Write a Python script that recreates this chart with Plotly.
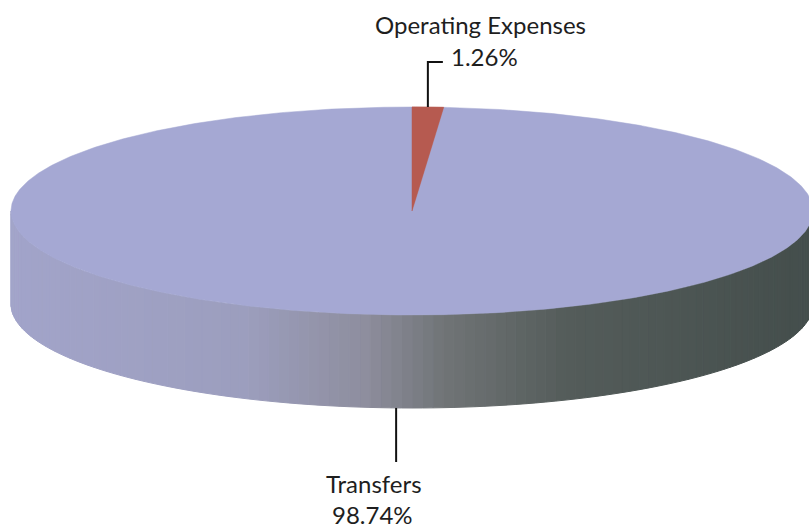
import math
import plotly.graph_objects as go

# ---- data ----
labels = ["Operating Expenses", "Transfers"]
values = [1.26, 98.74]
pct_text = ["1.26%", "98.74%"]

# ---- styling / geometry (pixel space) ----
W, H = 809, 529
CX, CY = 412, 211
RX, RY = 401, 104
DEPTH = 93
top_colors = ["#B65A50", "#A5A8D3"]

def pt(theta_deg, dy=0.0):
    t = math.radians(theta_deg)
    return CX + RX * math.sin(t), CY - RY * math.cos(t) + dy

def lerp(c1, c2, f):
    return tuple(int(round(a + (b - a) * f)) for a, b in zip(c1, c2))

# gradient stops along x for the wall
stops = [(0.0, (162, 164, 202)), (0.30, (156, 158, 190)), (0.45, (142, 142, 158)),
         (0.55, (112, 116, 118)), (0.70, (84, 92, 90)), (1.0, (68, 78, 76))]

def wall_color(x):
    f = min(max(x / W, 0), 1)
    for i in range(len(stops) - 1):
        f0, c0 = stops[i]
        f1, c1 = stops[i + 1]
        if f0 <= f <= f1:
            return "rgb(%d,%d,%d)" % lerp(c0, c1, (f - f0) / (f1 - f0))
    return "rgb(%d,%d,%d)" % stops[-1][1]

fig = go.Figure()

# wall (front half), drawn in strips for a gradient
N = 120
for i in range(N):
    a0 = 90 + 180 * i / N
    a1 = 90 + 180 * (i + 1) / N
    angs = [a0 + (a1 - a0) * k / 4 for k in range(5)]
    top = [pt(a) for a in angs]
    bot = [pt(a, DEPTH) for a in reversed(angs)]
    poly = top + bot + [top[0]]
    xm = (top[0][0] + top[-1][0]) / 2
    col = wall_color(xm)
    fig.add_trace(go.Scatter(x=[p[0] for p in poly], y=[p[1] for p in poly],
                             mode="lines", fill="toself", fillcolor=col,
                             line=dict(color=col, width=1), hoverinfo="skip",
                             showlegend=False))

# top face slices
total = sum(values)
start = 0.0
mids = []
for lab, v, col in zip(labels, values, top_colors):
    span = 360 * v / total
    n = max(int(span * 2), 4)
    angs = [start + span * k / n for k in range(n + 1)]
    pts = [(CX, CY)] + [pt(a) for a in angs] + [(CX, CY)]
    fig.add_trace(go.Scatter(x=[p[0] for p in pts], y=[p[1] for p in pts],
                             mode="lines", fill="toself", fillcolor=col,
                             line=dict(color=col, width=0.5), name=lab,
                             hoverinfo="name", showlegend=False))
    mids.append(start + span / 2)
    start += span

# draw the small slice on top again so it isn't overdrawn
span0 = 360 * values[0] / total
angs = [span0 * k / 10 for k in range(11)]
pts = [(CX, CY)] + [pt(a) for a in angs] + [(CX, CY)]
fig.add_trace(go.Scatter(x=[p[0] for p in pts], y=[p[1] for p in pts],
                         mode="lines", fill="toself", fillcolor=top_colors[0],
                         line=dict(color=top_colors[0], width=0.5),
                         hoverinfo="skip", showlegend=False))

font = dict(family="Lato, Open Sans, sans-serif", size=24, color="#1e1e1e")

# leader + labels: Operating Expenses
x0, y0 = pt(mids[0])
fig.add_trace(go.Scatter(x=[x0, x0, x0 + 15], y=[y0, 62, 62], mode="lines",
                         line=dict(color="#111111", width=2), hoverinfo="skip",
                         showlegend=False))
fig.add_annotation(x=480, y=24, text=labels[0], showarrow=False, font=font,
                   xanchor="center", yanchor="middle")
fig.add_annotation(x=449, y=56, text=pct_text[0], showarrow=False, font=font,
                   xanchor="left", yanchor="middle")

# leader + labels: Transfers
x1, y1 = pt(mids[1], DEPTH)
fig.add_trace(go.Scatter(x=[x1, x1], y=[y1, 462], mode="lines",
                         line=dict(color="#111111", width=2), hoverinfo="skip",
                         showlegend=False))
fig.add_annotation(x=374, y=483, text=labels[1], showarrow=False, font=font,
                   xanchor="center", yanchor="middle")
fig.add_annotation(x=372, y=514, text=pct_text[1], showarrow=False, font=font,
                   xanchor="center", yanchor="middle")

fig.update_layout(
    width=W, height=H, margin=dict(l=0, r=0, t=0, b=0),
    paper_bgcolor="white", plot_bgcolor="white",
    xaxis=dict(range=[0, W], visible=False, fixedrange=True),
    yaxis=dict(range=[H, 0], visible=False, fixedrange=True),
)
fig.write_html("out.html", config={"displayModeBar": False},
               post_script="document.body.style.margin='0';document.body.style.overflow='hidden';")
